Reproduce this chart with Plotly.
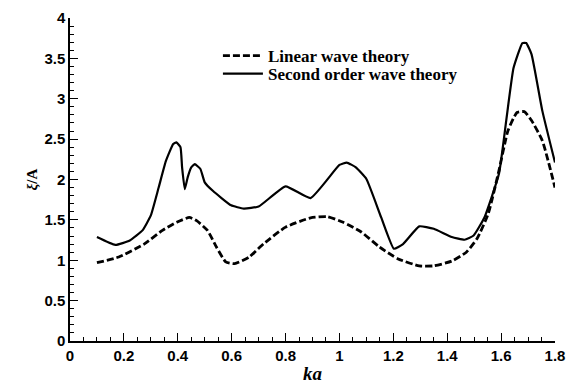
import plotly.graph_objects as go

# Second order wave theory
ka_second = [0.10, 0.168, 0.222, 0.269, 0.30, 0.329, 0.356, 0.383, 0.395, 0.41, 0.416, 0.426,
             0.437, 0.45, 0.463, 0.484, 0.50, 0.53, 0.598, 0.645, 0.70, 0.80, 0.893, 1.0,
             1.027, 1.061, 1.10, 1.155, 1.202, 1.236, 1.296, 1.35, 1.417, 1.464, 1.498,
             1.538, 1.592, 1.619, 1.646, 1.679, 1.693, 1.713, 1.753, 1.80]
xi_second = [1.287, 1.19, 1.245, 1.37, 1.555, 1.90, 2.23, 2.44, 2.46, 2.40, 2.15, 1.88,
             2.03, 2.15, 2.19, 2.13, 1.965, 1.86, 1.68, 1.64, 1.665, 1.915, 1.77, 2.18,
             2.21, 2.15, 2.006, 1.53, 1.143, 1.20, 1.42, 1.39, 1.287, 1.254, 1.307,
             1.53, 2.07, 2.73, 3.38, 3.69, 3.69, 3.55, 2.85, 2.21]

# Linear wave theory
ka_linear = [0.10, 0.181, 0.275, 0.343, 0.396, 0.443, 0.47, 0.51, 0.544, 0.578, 0.611,
             0.665, 0.719, 0.80, 0.893, 0.954, 1.014, 1.081, 1.149, 1.216, 1.296, 1.35,
             1.417, 1.471, 1.511, 1.552, 1.592, 1.625, 1.659, 1.686, 1.713, 1.753, 1.80]
xi_linear = [0.97, 1.04, 1.20, 1.37, 1.47, 1.53, 1.49, 1.37, 1.16, 0.98, 0.958,
             1.04, 1.205, 1.41, 1.525, 1.54, 1.47, 1.35, 1.163, 1.02, 0.93, 0.93,
             0.99, 1.10, 1.27, 1.575, 2.11, 2.60, 2.83, 2.84, 2.73, 2.48, 1.90]

x_ticks = [0, 0.2, 0.4, 0.6, 0.8, 1, 1.2, 1.4, 1.6, 1.8]
x_labels = ["0", "0.2", "0.4", "0.6", "0.8", "1", "1.2", "1.4", "1.6", "1.8"]
y_ticks = [0, 0.5, 1, 1.5, 2, 2.5, 3, 3.5, 4]
y_labels = ["0", "0.5", "1", "1.5", "2", "2.5", "3", "3.5", "4"]

fig = go.Figure()
fig.add_trace(go.Scatter(x=ka_linear, y=xi_linear, mode="lines", name="<b>Linear wave theory</b>",
                         line=dict(color="black", width=2.8, dash="7px,3px"),
                         line_shape="spline", line_smoothing=0.5, legend="legend"))
fig.add_trace(go.Scatter(x=ka_second, y=xi_second, mode="lines", name="<b>Second order wave theory</b>",
                         line=dict(color="black", width=2.2),
                         line_shape="spline", line_smoothing=0.4, legend="legend2"))

tickfont = dict(family="Arial", size=15, color="black")
legfont = dict(family="Times New Roman", size=17, color="black")

fig.update_layout(
    width=566, height=392,
    margin=dict(l=70, r=11, t=18, b=51),
    paper_bgcolor="white", plot_bgcolor="white",
    showlegend=True,
    legend=dict(x=0.305, y=0.938, xanchor="left", yanchor="top", font=legfont,
                bgcolor="rgba(0,0,0,0)", itemwidth=40),
    legend2=dict(x=0.305, y=0.882, xanchor="left", yanchor="top", font=legfont,
                 bgcolor="rgba(0,0,0,0)", itemwidth=40),
    xaxis=dict(range=[0, 1.8], tickvals=x_ticks, automargin=False,
               ticktext=["<b>%s</b>" % t for t in x_labels],
               ticks="inside", ticklen=8, tickwidth=1.2, tickcolor="black",
               showline=True, linecolor="black", linewidth=1.5, showgrid=False, zeroline=False,
               minor=dict(ticks="inside", dtick=0.05, ticklen=4, tickwidth=1, tickcolor="black"),
               tickfont=tickfont,
               title=dict(text="<b><i>ka</i></b>", standoff=4,
                          font=dict(family="Times New Roman", size=19, color="black"))),
    yaxis=dict(range=[0, 4], tickvals=y_ticks, automargin=False,
               ticktext=["<b>%s</b>" % t for t in y_labels],
               ticks="inside", ticklen=8, tickwidth=1.2, tickcolor="black",
               showline=True, linecolor="black", linewidth=1.5, showgrid=False, zeroline=False,
               minor=dict(ticks="inside", dtick=0.1, ticklen=4, tickwidth=1, tickcolor="black"),
               tickfont=tickfont,
               title=dict(text="<b><i>ξ</i>/A</b>", standoff=3,
                          font=dict(family="Times New Roman", size=15, color="black"))),
)

fig.write_html("out.html")
